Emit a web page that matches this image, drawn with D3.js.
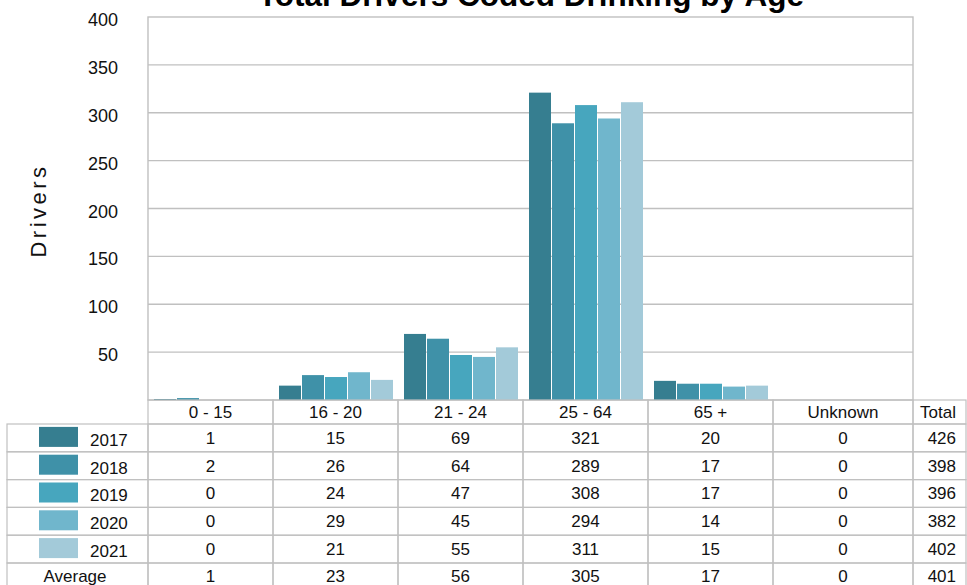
<!DOCTYPE html>
<html>
<head>
<meta charset="utf-8">
<script src="https://cdn.jsdelivr.net/npm/d3@7"></script>
<style>
  body { margin: 0; background: #fff; }
  svg { display: block; font-family: "Liberation Sans", Arial, sans-serif; }
</style>
</head>
<body>
<div id="chart"></div>
<script>
const categories = ["0 - 15", "16 - 20", "21 - 24", "25 - 64", "65 +", "Unknown"];
const years = ["2017", "2018", "2019", "2020", "2021"];
const v2017 = [1, 15, 69, 321, 20, 0];
const v2018 = [2, 26, 64, 289, 17, 0];
const v2019 = [0, 24, 47, 308, 17, 0];
const v2020 = [0, 29, 45, 294, 14, 0];
const v2021 = [0, 21, 55, 311, 15, 0];
const totals = [426, 398, 396, 382, 402];
const average = [1, 23, 56, 305, 17, 0];
const averageTotal = 401;
const yTicks = [50, 100, 150, 200, 250, 300, 350, 400];
const colors = ["#367e90", "#3f91a8", "#47a6be", "#70b6cc", "#a3cad9"];

const series = [v2017, v2018, v2019, v2020, v2021];

const width = 967, height = 585;
const plotLeft = 148, plotRight = 913, plotTop = 17, plotBottom = 400;
const gridColor = "#c0c0c0";
const textColor = "#111";

const svg = d3.select("#chart").append("svg")
    .attr("width", width)
    .attr("height", height);

// scales
const x = d3.scaleBand()
    .domain(categories)
    .range([plotLeft, plotLeft + 125 * categories.length])
    .paddingInner(0);

const xYear = d3.scaleBand()
    .domain(years)
    .range([6, 121]);

const y = d3.scaleLinear()
    .domain([0, 400])
    .range([plotBottom, plotTop]);

// column edges (last one stretches to plot edge)
const colLeft = c => x(c);
const colRight = (c, i) => i === categories.length - 1 ? plotRight : x(c) + x.bandwidth();

// gridlines
svg.append("g")
    .selectAll("line")
    .data(yTicks.filter(d => d < 400))
    .join("line")
    .attr("x1", plotLeft).attr("x2", plotRight)
    .attr("y1", d => y(d)).attr("y2", d => y(d))
    .attr("stroke", gridColor)
    .attr("stroke-width", 1.4);

// frame
svg.append("rect")
    .attr("x", plotLeft).attr("y", plotTop)
    .attr("width", plotRight - plotLeft)
    .attr("height", plotBottom - plotTop)
    .attr("fill", "none")
    .attr("stroke", gridColor)
    .attr("stroke-width", 1.4);

// bars
const groups = svg.append("g")
    .selectAll("g")
    .data(series)
    .join("g")
    .attr("fill", (d, i) => colors[i]);

groups.each(function(vals, si) {
    d3.select(this).selectAll("rect")
        .data(vals.map((v, ci) => ({ cat: categories[ci], v })))
        .join("rect")
        .attr("x", d => x(d.cat) + xYear(years[si]))
        .attr("width", xYear.bandwidth() - 1)
        .attr("y", d => y(d.v))
        .attr("height", d => y(0) - y(d.v));
});

// y axis labels
svg.append("g")
    .attr("font-size", 18)
    .attr("fill", textColor)
    .attr("text-anchor", "end")
    .selectAll("text")
    .data(yTicks)
    .join("text")
    .attr("x", 118)
    .attr("y", d => y(d))
    .attr("dy", "0.5em")
    .text(d => d);

// y title
svg.append("text")
    .attr("transform", `translate(46,${(plotTop + plotBottom) / 2 + 2}) rotate(-90)`)
    .attr("text-anchor", "middle")
    .attr("font-size", 22)
    .attr("letter-spacing", "3.5px")
    .attr("fill", textColor)
    .text("Drivers");

// title
svg.append("text")
    .attr("x", 531)
    .attr("y", 6)
    .attr("text-anchor", "middle")
    .attr("font-size", 31.5)
    .attr("font-weight", "bold")
    .attr("fill", "#000")
    .text("Total Drivers Coded Drinking by Age");

// data table
const table = svg.append("g").attr("font-size", 17).attr("fill", textColor);
const headerTop = plotBottom, headerH = 24;
const rowH = 27.8;
const tableLeft = 7, totalRight = 966;
const rowTop = i => headerTop + headerH + i * rowH;

// header cells
categories.forEach((c, i) => {
    table.append("rect")
        .attr("x", colLeft(c)).attr("y", headerTop)
        .attr("width", colRight(c, i) - colLeft(c)).attr("height", headerH)
        .attr("fill", "none").attr("stroke", gridColor).attr("stroke-width", 1.2);
    table.append("text")
        .attr("x", (colLeft(c) + colRight(c, i)) / 2)
        .attr("y", headerTop + headerH / 2)
        .attr("dy", "0.35em")
        .attr("text-anchor", "middle")
        .text(c);
});
table.append("rect")
    .attr("x", plotRight).attr("y", headerTop)
    .attr("width", totalRight - plotRight).attr("height", headerH)
    .attr("fill", "none").attr("stroke", gridColor).attr("stroke-width", 1.2);
table.append("text")
    .attr("x", 956).attr("y", headerTop + headerH / 2)
    .attr("dy", "0.35em").attr("text-anchor", "end")
    .text("Total");

// body rows
const rows = series.map((vals, i) => ({ label: years[i], vals, total: totals[i], color: colors[i] }));
rows.push({ label: "Average", vals: average, total: averageTotal, color: null });

rows.forEach((r, ri) => {
    const top = rowTop(ri);
    const mid = top + rowH / 2;
    // label cell
    table.append("rect")
        .attr("x", tableLeft).attr("y", top)
        .attr("width", plotLeft - tableLeft).attr("height", rowH)
        .attr("fill", "none").attr("stroke", gridColor).attr("stroke-width", 1.2);
    if (r.color) {
        table.append("rect")
            .attr("x", 39).attr("y", mid - 11)
            .attr("width", 39).attr("height", 20)
            .attr("fill", r.color);
        table.append("text")
            .attr("x", 90).attr("y", mid + 2)
            .attr("dy", "0.35em")
            .text(r.label);
    } else {
        table.append("text")
            .attr("x", 75).attr("y", mid - 1)
            .attr("dy", "0.35em")
            .attr("text-anchor", "middle")
            .text(r.label);
    }
    categories.forEach((c, ci) => {
        table.append("rect")
            .attr("x", colLeft(c)).attr("y", top)
            .attr("width", colRight(c, ci) - colLeft(c)).attr("height", rowH)
            .attr("fill", "none").attr("stroke", gridColor).attr("stroke-width", 1.2);
        table.append("text")
            .attr("x", (colLeft(c) + colRight(c, ci)) / 2)
            .attr("y", mid - (r.color ? 0 : 1))
            .attr("dy", "0.35em")
            .attr("text-anchor", "middle")
            .text(r.vals[ci]);
    });
    table.append("rect")
        .attr("x", plotRight).attr("y", top)
        .attr("width", totalRight - plotRight).attr("height", rowH)
        .attr("fill", "none").attr("stroke", gridColor).attr("stroke-width", 1.2);
    table.append("text")
        .attr("x", 956).attr("y", mid - (r.color ? 0 : 1))
        .attr("dy", "0.35em").attr("text-anchor", "end")
        .text(r.total);
});
</script>
</body>
</html>
